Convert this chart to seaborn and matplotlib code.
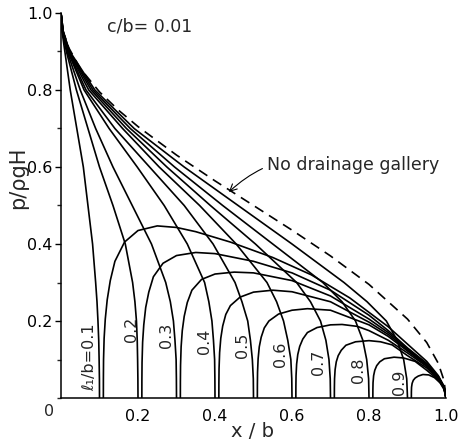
import pandas as pd
import matplotlib
matplotlib.use("Agg")
import matplotlib.pyplot as plt
from matplotlib.ticker import MultipleLocator
import seaborn as sns

sns.set_theme(style="white")
plt.rcParams["font.family"] = ["DejaVu Sans"]

# ---------------------------------------------------------------
# Uplift pressure p/(rho g H) along the base x/b, c/b = 0.01
# ---------------------------------------------------------------
drain_positions = [0.1, 0.2, 0.3, 0.4, 0.5, 0.6, 0.7, 0.8, 0.9]
drain_labels = ["\u2113\u2081/b=0.1", "0.2", "0.3", "0.4", "0.5", "0.6", "0.7", "0.8", "0.9"]

# no drainage gallery
no_drain_x = [0.0, 0.005, 0.02, 0.05, 0.1, 0.15, 0.2, 0.3, 0.4, 0.5, 0.6, 0.7, 0.8, 0.9, 0.95, 0.98, 0.995, 1.0]
no_drain_p = [1.0, 0.955, 0.91, 0.856, 0.795, 0.747, 0.705, 0.631, 0.564, 0.5, 0.436, 0.369, 0.295, 0.205, 0.144, 0.09, 0.045, 0.0]

# upstream side of the drain: x/b at which p reaches each level
upstream_levels = [1.0, 0.95, 0.9, 0.8, 0.7, 0.6, 0.5, 0.4, 0.3, 0.25, 0.2, 0.15, 0.1, 0.05, 0.0]
up_x_01 = [0.0, 0.003, 0.010, 0.024, 0.041, 0.058, 0.070, 0.082, 0.090, 0.0935, 0.096, 0.098, 0.099, 0.0998, 0.1]
up_x_02 = [0.0, 0.004, 0.014, 0.040, 0.070, 0.100, 0.135, 0.167, 0.186, 0.192, 0.196, 0.198, 0.199, 0.1997, 0.2]
up_x_03 = [0.0, 0.005, 0.016, 0.050, 0.090, 0.135, 0.185, 0.235, 0.272, 0.284, 0.292, 0.296, 0.299, 0.2997, 0.3]
up_x_04 = [0.0, 0.005, 0.018, 0.060, 0.125, 0.198, 0.268, 0.328, 0.373, 0.384, 0.392, 0.396, 0.399, 0.3997, 0.4]
up_x_05 = [0.0, 0.005, 0.019, 0.065, 0.140, 0.230, 0.320, 0.395, 0.452, 0.470, 0.485, 0.492, 0.497, 0.4995, 0.5]
up_x_06 = [0.0, 0.005, 0.020, 0.072, 0.160, 0.255, 0.360, 0.455, 0.535, 0.560, 0.578, 0.589, 0.597, 0.5994, 0.6]
up_x_07 = [0.0, 0.006, 0.021, 0.078, 0.170, 0.275, 0.388, 0.505, 0.612, 0.648, 0.674, 0.688, 0.696, 0.6993, 0.7]
up_x_08 = [0.0, 0.006, 0.022, 0.083, 0.180, 0.295, 0.420, 0.550, 0.680, 0.730, 0.765, 0.784, 0.794, 0.799, 0.8]
up_x_09 = [0.0, 0.006, 0.023, 0.088, 0.190, 0.320, 0.460, 0.600, 0.735, 0.795, 0.845, 0.873, 0.890, 0.898, 0.9]

# downstream side of the drain
dn_x_01 = [0.11, 0.1101, 0.1105, 0.112, 0.115, 0.12, 0.128, 0.14, 0.165, 0.2, 0.25, 0.3, 0.35, 0.44, 0.55, 0.65, 0.75, 0.85, 0.9, 0.95, 0.98, 0.995, 1.0]
dn_p_01 = [0.0, 0.05, 0.10, 0.155, 0.205, 0.255, 0.305, 0.355, 0.405, 0.435, 0.447, 0.443, 0.432, 0.405, 0.365, 0.32, 0.26, 0.185, 0.14, 0.095, 0.058, 0.03, 0.0]
dn_x_02 = [0.21, 0.2101, 0.2105, 0.212, 0.215, 0.22, 0.228, 0.24, 0.265, 0.3, 0.35, 0.4, 0.5, 0.6, 0.7, 0.8, 0.85, 0.9, 0.95, 0.98, 0.995, 1.0]
dn_p_02 = [0.0, 0.045, 0.092, 0.145, 0.19, 0.235, 0.275, 0.315, 0.35, 0.37, 0.378, 0.375, 0.355, 0.325, 0.28, 0.215, 0.175, 0.13, 0.09, 0.056, 0.029, 0.0]
dn_x_03 = [0.31, 0.3101, 0.3105, 0.312, 0.315, 0.32, 0.328, 0.34, 0.365, 0.4, 0.45, 0.5, 0.6, 0.7, 0.8, 0.85, 0.9, 0.95, 0.98, 0.995, 1.0]
dn_p_03 = [0.0, 0.042, 0.085, 0.133, 0.175, 0.212, 0.248, 0.28, 0.308, 0.322, 0.327, 0.325, 0.305, 0.265, 0.205, 0.17, 0.128, 0.088, 0.055, 0.028, 0.0]
dn_x_04 = [0.41, 0.4101, 0.4105, 0.412, 0.415, 0.42, 0.428, 0.44, 0.465, 0.5, 0.55, 0.6, 0.7, 0.8, 0.85, 0.9, 0.95, 0.98, 0.995, 1.0]
dn_p_04 = [0.0, 0.038, 0.076, 0.118, 0.155, 0.187, 0.217, 0.24, 0.262, 0.275, 0.28, 0.276, 0.25, 0.197, 0.165, 0.125, 0.086, 0.054, 0.028, 0.0]
dn_x_05 = [0.51, 0.5101, 0.5105, 0.512, 0.515, 0.52, 0.528, 0.54, 0.565, 0.6, 0.64, 0.7, 0.8, 0.85, 0.9, 0.95, 0.98, 0.995, 1.0]
dn_p_05 = [0.0, 0.034, 0.067, 0.102, 0.133, 0.158, 0.182, 0.2, 0.218, 0.228, 0.232, 0.228, 0.19, 0.16, 0.122, 0.084, 0.053, 0.027, 0.0]
dn_x_06 = [0.61, 0.6101, 0.6105, 0.612, 0.615, 0.62, 0.628, 0.64, 0.665, 0.7, 0.73, 0.77, 0.8, 0.85, 0.9, 0.95, 0.98, 0.995, 1.0]
dn_p_06 = [0.0, 0.03, 0.058, 0.088, 0.113, 0.134, 0.153, 0.17, 0.183, 0.19, 0.191, 0.186, 0.175, 0.15, 0.117, 0.082, 0.052, 0.027, 0.0]
dn_x_07 = [0.71, 0.7101, 0.7105, 0.712, 0.715, 0.72, 0.728, 0.74, 0.765, 0.8, 0.83, 0.86, 0.9, 0.95, 0.98, 0.995, 1.0]
dn_p_07 = [0.0, 0.026, 0.05, 0.074, 0.094, 0.11, 0.124, 0.137, 0.146, 0.149, 0.146, 0.138, 0.11, 0.078, 0.05, 0.026, 0.0]
dn_x_08 = [0.81, 0.8101, 0.8105, 0.812, 0.815, 0.82, 0.828, 0.84, 0.865, 0.89, 0.92, 0.95, 0.98, 0.995, 1.0]
dn_p_08 = [0.0, 0.022, 0.04, 0.058, 0.072, 0.084, 0.094, 0.102, 0.106, 0.104, 0.095, 0.072, 0.047, 0.025, 0.0]
dn_x_09 = [0.91, 0.9101, 0.9105, 0.912, 0.915, 0.92, 0.928, 0.94, 0.955, 0.97, 0.985, 0.995, 1.0]
dn_p_09 = [0.0, 0.016, 0.028, 0.038, 0.046, 0.052, 0.057, 0.061, 0.06, 0.053, 0.039, 0.022, 0.0]

# label anchor points (x/b, p) for the rotated curve labels
label_x = [0.075, 0.184, 0.274, 0.374, 0.471, 0.571, 0.670, 0.774, 0.878]
label_p = [0.106, 0.179, 0.162, 0.148, 0.136, 0.114, 0.093, 0.071, 0.041]

up_xs = [up_x_01, up_x_02, up_x_03, up_x_04, up_x_05, up_x_06, up_x_07, up_x_08, up_x_09]
dn_xs = [dn_x_01, dn_x_02, dn_x_03, dn_x_04, dn_x_05, dn_x_06, dn_x_07, dn_x_08, dn_x_09]
dn_ps = [dn_p_01, dn_p_02, dn_p_03, dn_p_04, dn_p_05, dn_p_06, dn_p_07, dn_p_08, dn_p_09]

rows = []
for L, ux, dx, dp in zip(drain_positions, up_xs, dn_xs, dn_ps):
    for x, p in zip(ux, upstream_levels):
        rows.append({"segment": f"up {L}", "x": x, "p": p})
    for x, p in zip(dx, dp):
        rows.append({"segment": f"down {L}", "x": x, "p": p})
curves = pd.DataFrame(rows)
no_drain = pd.DataFrame({"x": no_drain_x, "p": no_drain_p})

W, H = 459, 444
fig = plt.figure(figsize=(W / 100, H / 100), dpi=100)
ax = fig.add_axes([61 / W, 46 / H, 385 / W, 385 / H])

sns.lineplot(data=curves, x="x", y="p", units="segment", estimator=None,
             sort=False, color="black", lw=1.2, ax=ax, legend=False)
sns.lineplot(data=no_drain, x="x", y="p", estimator=None, sort=False,
             color="black", lw=1.2, linestyle=(0, (6, 4)), ax=ax, legend=False)

ax.set_xlim(0, 1)
ax.set_ylim(0, 1)
for side in ("top", "right"):
    ax.spines[side].set_visible(False)
for side in ("left", "bottom"):
    ax.spines[side].set_color("black")
    ax.spines[side].set_linewidth(1.1)

ax.set_xticks([0.2, 0.4, 0.6, 0.8, 1.0])
ax.set_xticklabels(["0.2", "0.4", "0.6", "0.8", "1.0"])
ax.set_yticks([0.2, 0.4, 0.6, 0.8, 1.0])
ax.set_yticklabels(["0.2", "0.4", "0.6", "0.8", "1.0"])
ax.yaxis.set_minor_locator(MultipleLocator(0.1))
ax.tick_params(axis="x", length=0, pad=8, labelsize=11.5, colors="black")
ax.tick_params(axis="y", which="major", direction="out", length=4, width=1,
               pad=2, labelsize=11.5, colors="black", left=True)
ax.tick_params(axis="y", which="minor", direction="out", length=3, width=1, left=True)
ax.set_xlabel("")
ax.set_ylabel("")

ax.text(-0.03, -0.036, "0", ha="center", va="center", fontsize=11.5, clip_on=False)
fig.text(252 / W, 1 - 431 / H, "x / b", ha="center", va="center", fontsize=14)
fig.text(18 / W, 1 - 178 / H, "p/\u03c1gH", ha="center", va="center", fontsize=15, rotation=90)
ax.text(0.231, 0.964, "c/b= 0.01", ha="center", va="center", fontsize=12.5)

for lx, lp, txt in zip(label_x, label_p, drain_labels):
    ax.text(lx, lp, txt, ha="center", va="center", rotation=90, fontsize=11.5)

ax.annotate("No drainage gallery", xy=(0.436, 0.535), xytext=(0.535, 0.604),
            ha="left", va="center", fontsize=12.5,
            arrowprops=dict(arrowstyle="->", lw=0.8, color="black",
                            connectionstyle="arc3,rad=0.3",
                            shrinkA=1, shrinkB=0))

fig.savefig("out.png", dpi=100)
